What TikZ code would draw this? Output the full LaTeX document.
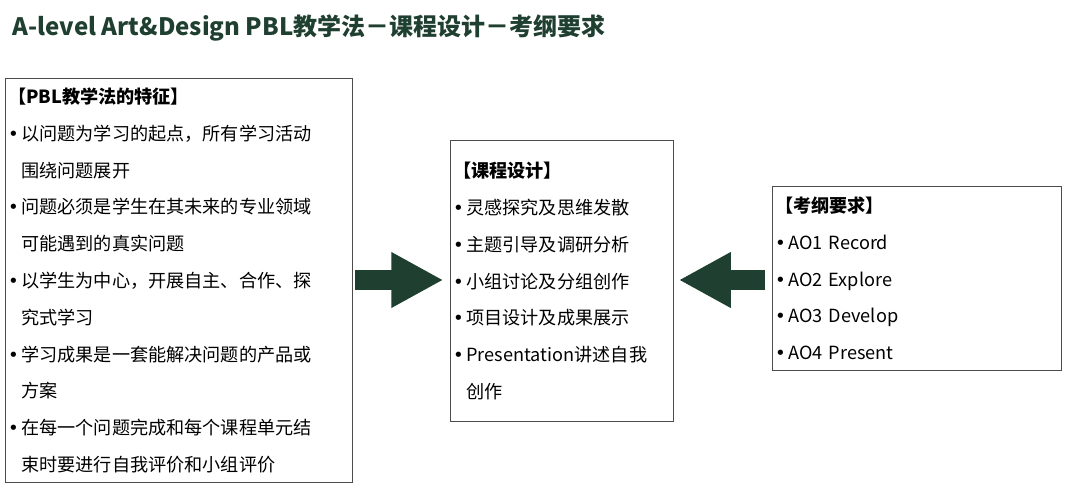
\documentclass[tikz,border=0pt]{standalone}
\usepackage{fontspec}
\setmainfont{Noto Sans CJK SC}
\newfontfamily\bulletfont{DejaVu Sans}
\usetikzlibrary{arrows.meta,positioning}
\definecolor{pblgreen}{HTML}{1F3F31}
\newcommand{\itm}{{\bulletfont •}\hspace{2pt}}
\newcommand{\cont}{\hphantom{{\bulletfont •}\hspace{2pt}}}

\begin{document}
\begin{tikzpicture}[x = .75pt, y = -.75pt, style={font=\fontsize{13.6}{27.6}\selectfont}]
\useasboundingbox (0,0) rectangle (1080,488);
\tikzset{
  infobox/.style={draw=black!70, line width=.6pt, anchor=north west, align=left,
    inner xsep=2pt, inner ysep=0pt},
  bigarrow/.style={pblgreen, line width=15pt, -{Triangle[width=39pt,length=39pt]}}
}
% Title
\node[anchor=west, text=pblgreen, font=\fontsize{18}{20}\selectfont\bfseries] (title) at (8,28)
  {A-level Art\&Design PBL教学法－课程设计－考纲要求};
% PBL features
\node[infobox, text width=256pt, minimum height=303pt] (pbl) at (5,78)
  {\textbf{【PBL教学法的特征】}\\
   \itm 以问题为学习的起点，所有学习活动\\
   \cont 围绕问题展开\\
   \itm 问题必须是学生在其未来的专业领域\\
   \cont 可能遇到的真实问题\\
   \itm 以学生为中心，开展自主、合作、探\\
   \cont 究式学习\\
   \itm 学习成果是一套能解决问题的产品或\\
   \cont 方案\\
   \itm 在每一个问题完成和每个课程单元结\\
   \cont 束时要进行自我评价和小组评价};
% Course design
\node[infobox, text width=163pt, minimum height=211pt] (course) at (450,140)
  {\textbf{【课程设计】}\\
   \itm 灵感探究及思维发散\\
   \itm 主题引导及调研分析\\
   \itm 小组讨论及分组创作\\
   \itm 项目设计及成果展示\\
   \itm Presentation讲述自我\\
   \cont 创作};
% Syllabus
\node[infobox, text width=213pt, minimum height=138pt] (syllabus) at (772,186)
  {\textbf{【考纲要求】}\\
   \itm AO1 Record\\
   \itm AO2 Explore\\
   \itm AO3 Develop\\
   \itm AO4 Present};
% Arrows
\coordinate (mid) at (0,280);
\draw[bigarrow, shorten <=2pt, shorten >=5pt] (pbl.east |- mid) -- (course.west |- mid);
\draw[bigarrow, shorten <=5pt, shorten >=4pt] (syllabus.west |- mid) -- (course.east |- mid);
\end{tikzpicture}
\end{document}
